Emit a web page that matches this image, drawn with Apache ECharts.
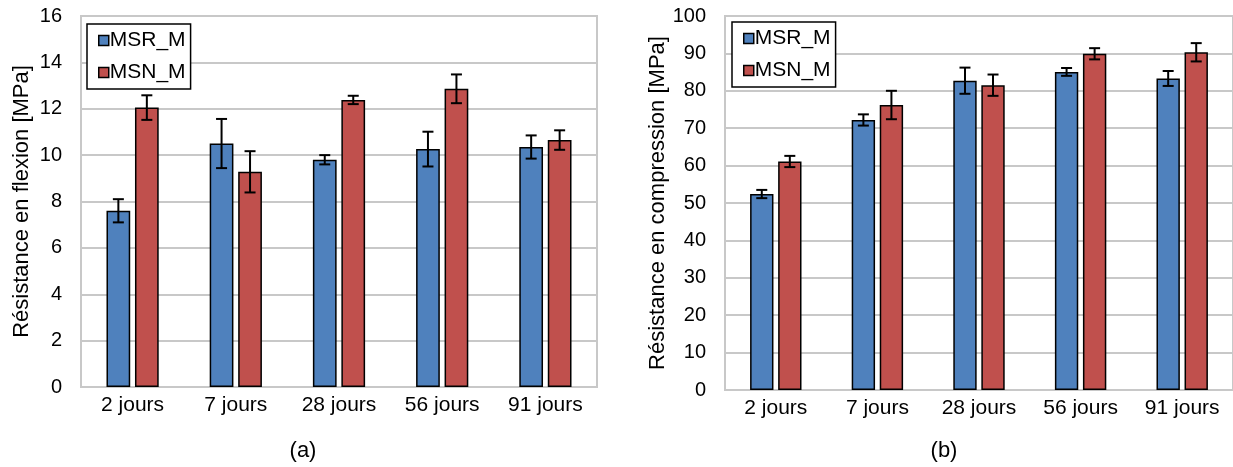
<!DOCTYPE html>
<html>
<head>
<meta charset="utf-8">
<script src="https://cdn.jsdelivr.net/npm/echarts@6/dist/echarts.min.js"></script>
<style>
  html, body { margin: 0; padding: 0; background: #fff; }
  #main { width: 1233px; height: 467px; }
</style>
</head>
<body>
<div id="main"></div>
<script>
  // categories
  var jours = ['2 jours', '7 jours', '28 jours', '56 jours', '91 jours'];

  // (a) flexion [MPa]
  var flexMSR = [7.6, 10.5, 9.8, 10.26, 10.35];
  var flexMSRerr = [0.5, 1.06, 0.2, 0.75, 0.5];
  var flexMSN = [12.05, 9.28, 12.38, 12.86, 10.65];
  var flexMSNerr = [0.53, 0.89, 0.18, 0.62, 0.42];

  // (b) compression [MPa]
  var compMSR = [52.4, 72.2, 82.7, 85.05, 83.3];
  var compMSRerr = [1.1, 1.5, 3.5, 1.05, 2.0];
  var compMSN = [61.1, 76.2, 81.5, 89.9, 90.3];
  var compMSNerr = [1.5, 3.8, 2.85, 1.5, 2.45];

  var blue = '#4F81BD';
  var red = '#C0504D';
  var gridGrey = '#C8C8C8';
  var font = '"Liberation Sans", Arial, sans-serif';
  var barW = 0.23;   // part of a category
  var barGap = 0.2;  // part of a bar

  function errData(vals, errs) {
    var out = [];
    for (var i = 0; i < vals.length; i++) {
      out.push([i, vals[i] - errs[i], vals[i] + errs[i]]);
    }
    return out;
  }

  // error bars, shifted onto the left (-1) or right (+1) bar
  function errRender(side) {
    return function (params, api) {
      var i = api.value(0);
      var lo = api.coord([i, api.value(1)]);
      var hi = api.coord([i, api.value(2)]);
      var band = api.size([1, 0])[0];
      var w = band * barW;
      var x = lo[0] + side * (w + w * barGap) / 2;
      var cap = 5.5;
      var st = { stroke: '#000', lineWidth: 2 };
      return {
        type: 'group',
        children: [
          { type: 'line', shape: { x1: x, y1: lo[1], x2: x, y2: hi[1] }, style: st },
          { type: 'line', shape: { x1: x - cap, y1: hi[1], x2: x + cap, y2: hi[1] }, style: st },
          { type: 'line', shape: { x1: x - cap, y1: lo[1], x2: x + cap, y2: lo[1] }, style: st }
        ]
      };
    };
  }

  function barSeries(name, color, data, idx) {
    return {
      name: name, type: 'bar', xAxisIndex: idx, yAxisIndex: idx,
      data: data, barWidth: (barW * 100) + '%', barGap: (barGap * 100) + '%',
      itemStyle: { color: color, borderColor: '#000', borderWidth: 1.5 },
      emphasis: { disabled: true }
    };
  }

  function errSeries(name, data, idx, side) {
    return {
      name: name, type: 'custom', xAxisIndex: idx, yAxisIndex: idx,
      data: data, renderItem: errRender(side), z: 5,
      encode: { x: 0, y: [1, 2] }
    };
  }

  function yAxis(idx, max, interval, name, gap) {
    return {
      gridIndex: idx, type: 'value', min: 0, max: max, interval: interval,
      name: name, nameLocation: 'middle', nameGap: gap, nameRotate: 90,
      nameTextStyle: { fontFamily: font, fontSize: 22, color: '#000' },
      axisLine: { show: false }, axisTick: { show: false },
      axisLabel: { fontFamily: font, fontSize: 20, color: '#000', margin: 19 },
      splitLine: { lineStyle: { color: gridGrey, width: 2 } }
    };
  }

  function xAxis(idx) {
    return {
      gridIndex: idx, type: 'category', data: jours,
      axisLine: { lineStyle: { color: gridGrey, width: 2 } },
      axisTick: { show: false },
      axisLabel: { fontFamily: font, fontSize: 21, color: '#000', margin: 8 }
    };
  }

  function legend(left, top) {
    return {
      left: left, top: top, orient: 'vertical',
      data: ['MSR_M', 'MSN_M'],
      icon: 'rect', itemWidth: 10, itemHeight: 10, itemGap: 11,
      borderColor: '#000', borderWidth: 1.5, padding: [6, 5, 6, 11],
      backgroundColor: '#fff',
      textStyle: { fontFamily: font, fontSize: 21, color: '#000', padding: [0, 0, 0, -4] },
      itemStyle: { borderColor: '#000', borderWidth: 1.5 }
    };
  }

  var chart = echarts.init(document.getElementById('main'));
  chart.setOption({
    animation: false,
    color: [blue, red],
    title: [
      { text: '(a)', left: 298, top: 435, textAlign: 'center',
        textStyle: { fontFamily: font, fontSize: 22, fontWeight: 'normal', color: '#000' } },
      { text: '(b)', left: 939, top: 435, textAlign: 'center',
        textStyle: { fontFamily: font, fontSize: 22, fontWeight: 'normal', color: '#000' } }
    ],
    legend: [legend(87, 24), legend(732, 22)],
    grid: [
      { left: 81, top: 16, width: 516, height: 371, show: true, borderColor: gridGrey, borderWidth: 2 },
      { left: 725, top: 16, width: 510, height: 374, show: true, borderColor: gridGrey, borderWidth: 2 }
    ],
    xAxis: [xAxis(0), xAxis(1)],
    yAxis: [
      yAxis(0, 16, 2, 'Résistance en flexion [MPa]', 48),
      yAxis(1, 100, 10, 'Résistance en compression [MPa]', 51)
    ],
    series: [
      barSeries('MSR_M', blue, flexMSR, 0),
      barSeries('MSN_M', red, flexMSN, 0),
      errSeries('MSR_M', errData(flexMSR, flexMSRerr), 0, -1),
      errSeries('MSN_M', errData(flexMSN, flexMSNerr), 0, 1),
      barSeries('MSR_M', blue, compMSR, 1),
      barSeries('MSN_M', red, compMSN, 1),
      errSeries('MSR_M', errData(compMSR, compMSRerr), 1, -1),
      errSeries('MSN_M', errData(compMSN, compMSNerr), 1, 1)
    ]
  });
</script>
</body>
</html>
